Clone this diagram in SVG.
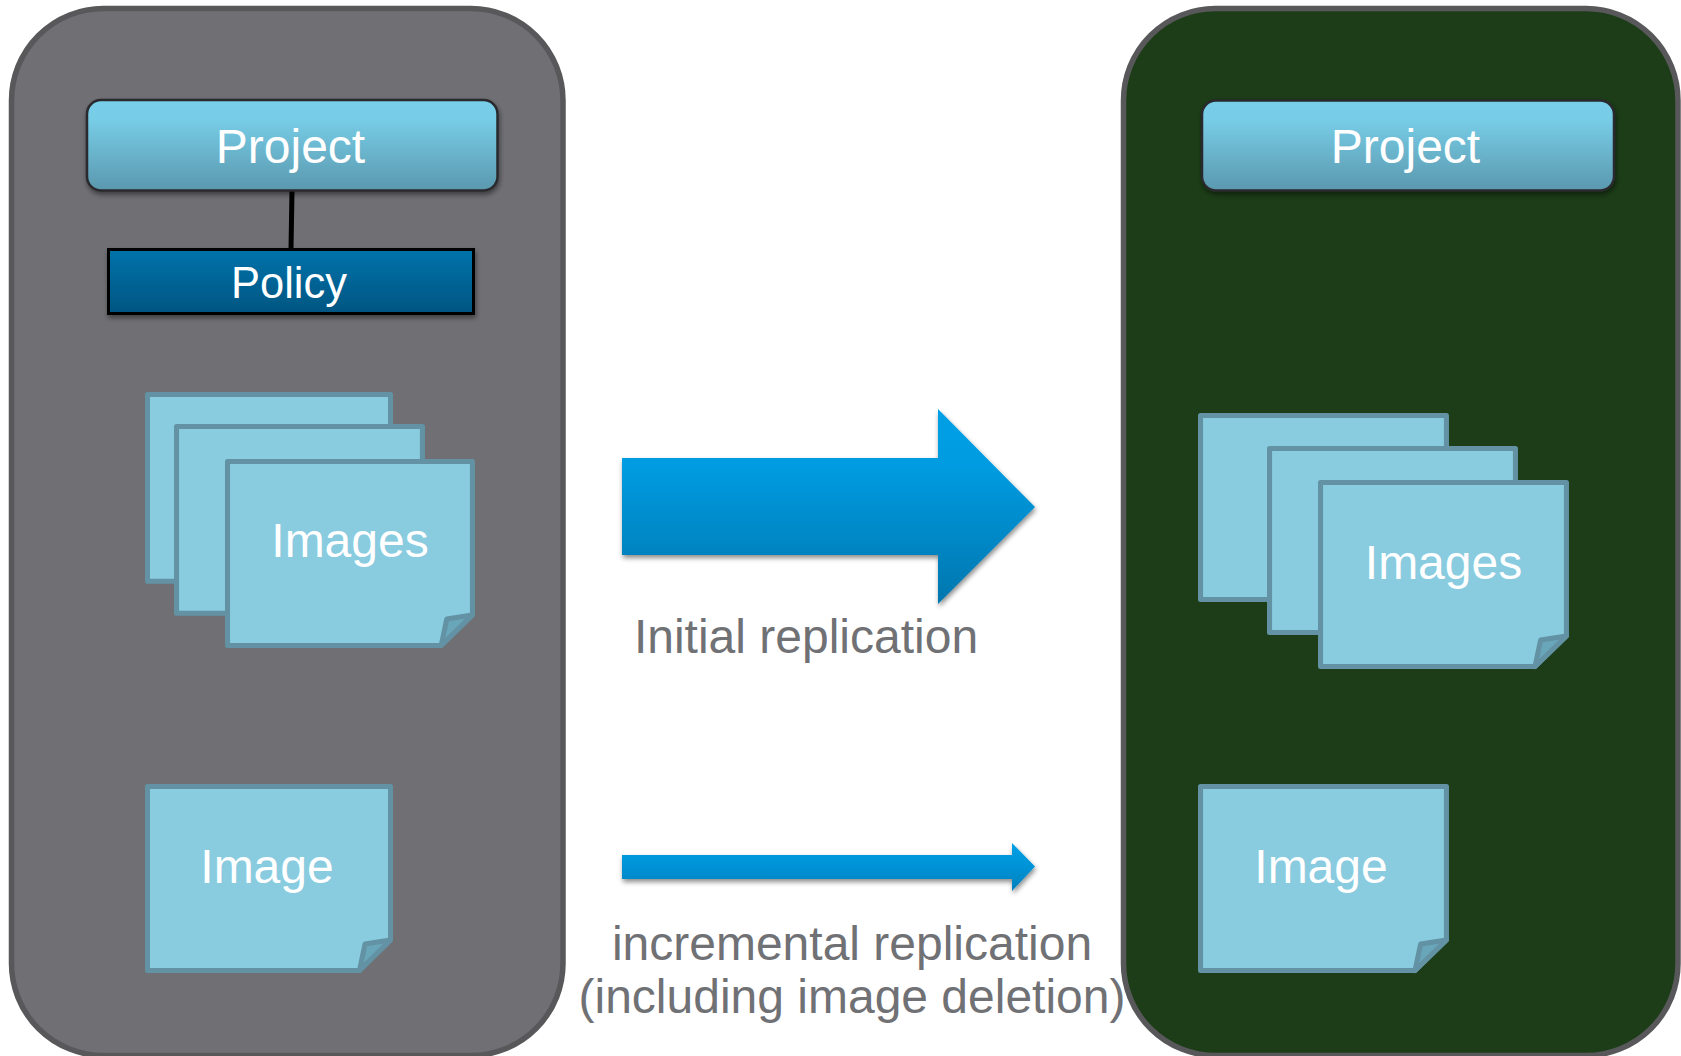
<svg xmlns="http://www.w3.org/2000/svg" xmlns:xlink="http://www.w3.org/1999/xlink" width="1681" height="1056" viewBox="0 0 1681 1056">
<style>
text{font-family:"Liberation Sans",Arial,sans-serif;text-anchor:middle;fill:#fff}
.big{font-size:48px}
.pol{font-size:43.5px}
.cap{font-size:48px;fill:#707175}
.panel{stroke:#58585b;stroke-width:5.5}
.proj{fill:url(#pg);stroke:#2a2a2e;stroke-width:2.5;filter:url(#sh)}
.page{fill:#89cbdf;stroke:#6292a3;stroke-width:5;stroke-linejoin:round}
.fold{fill:#6aa6ba;stroke:#6292a3;stroke-width:5;stroke-linejoin:round}
</style>
<defs>
<linearGradient id="pg" x1="0" y1="0" x2="0" y2="1"><stop offset="0" stop-color="#78cfe9"/><stop offset=".22" stop-color="#77cce6"/><stop offset="1" stop-color="#5a98ae"/></linearGradient>
<linearGradient id="dg" x1="0" y1="0" x2="0" y2="1"><stop offset="0" stop-color="#0073ab"/><stop offset="1" stop-color="#005581"/></linearGradient>
<linearGradient id="ag" gradientUnits="userSpaceOnUse" x1="0" y1="409" x2="0" y2="604"><stop offset="0" stop-color="#00a0e6"/><stop offset=".3" stop-color="#009be0"/><stop offset="1" stop-color="#0076ae"/></linearGradient>
<linearGradient id="ag2" x1="0" y1="0" x2="0" y2="1"><stop offset="0" stop-color="#00a0e6"/><stop offset=".5" stop-color="#0092d6"/><stop offset="1" stop-color="#0080bc"/></linearGradient>
<filter id="sh" x="-5%" y="-10%" width="110%" height="125%"><feDropShadow dx="1" dy="3" stdDeviation="2.5" flood-color="#000" flood-opacity=".45"/></filter>
<g id="sheet">
<path class="page" d="M2.5 2.5H245.5V156L214.500 186.500H2.5Z"/>
<path class="fold" d="M214.500 186.500L220 160L245.5 156Z"/>
</g>
</defs>
<rect width="1681" height="1056" fill="#fff"/>
<g id="panel-source"><rect class="panel" x="11.500" y="8.500" width="551.500" height="1047" rx="92" ry="92" fill="#706f74"/></g>
<g id="panel-target"><rect class="panel" x="1123.500" y="8.500" width="554.500" height="1047" rx="92" ry="92" fill="#1c3d17"/></g>
<g id="connectors">
<line x1="292" y1="191" x2="291" y2="249" stroke="#000" stroke-width="5"/>
<path id="arrow-initial" d="M622 458H938V409L1035 507L938 604V555H622Z" fill="url(#ag)" filter="url(#sh)"/>
<path id="arrow-incremental" d="M622 855H1012V843L1035 866.5L1012 891V879H622Z" fill="url(#ag2)" filter="url(#sh)"/>
</g>
<g id="project-source"><rect class="proj" x="87" y="100" width="410.500" height="90.500" rx="14"/><text class="big" x="290.500" y="163">Project</text></g>
<g id="policy"><rect x="108.500" y="249.500" width="365" height="64" fill="url(#dg)" stroke="#000" stroke-width="3" filter="url(#sh)"/><text class="pol" x="289" y="298">Policy</text></g>
<g id="images-source"><use xlink:href="#sheet" href="#sheet" transform="translate(145 392) scale(1 1.015)"/><use xlink:href="#sheet" href="#sheet" transform="translate(174 424) scale(1.012 1.015)"/><use xlink:href="#sheet" href="#sheet" transform="translate(225 459) scale(1.008 1)"/><text class="big" x="350" y="557">Images</text></g>
<g id="image-source"><use xlink:href="#sheet" href="#sheet" x="145" y="784"/><text class="big" x="267" y="883">Image</text></g>
<g id="project-target"><rect class="proj" x="1202" y="100.500" width="412" height="90" rx="14"/><text class="big" x="1405.500" y="163">Project</text></g>
<g id="images-target"><use xlink:href="#sheet" href="#sheet" transform="translate(1198 413) scale(1.012 1)"/><use xlink:href="#sheet" href="#sheet" transform="translate(1267 446) scale(1.012 1)"/><use xlink:href="#sheet" href="#sheet" transform="translate(1318 480) scale(1.012 1)"/><text class="big" x="1443.500" y="579">Images</text></g>
<g id="image-target"><use xlink:href="#sheet" href="#sheet" transform="translate(1198 784) scale(1.012 1)"/><text class="big" x="1321" y="883">Image</text></g>
<g id="labels">
<text class="cap" x="806" y="653">Initial replication</text>
<text class="cap" x="852" y="960">incremental replication</text>
<text class="cap" x="852" y="1013">(including image deletion)</text>
</g>
</svg>
